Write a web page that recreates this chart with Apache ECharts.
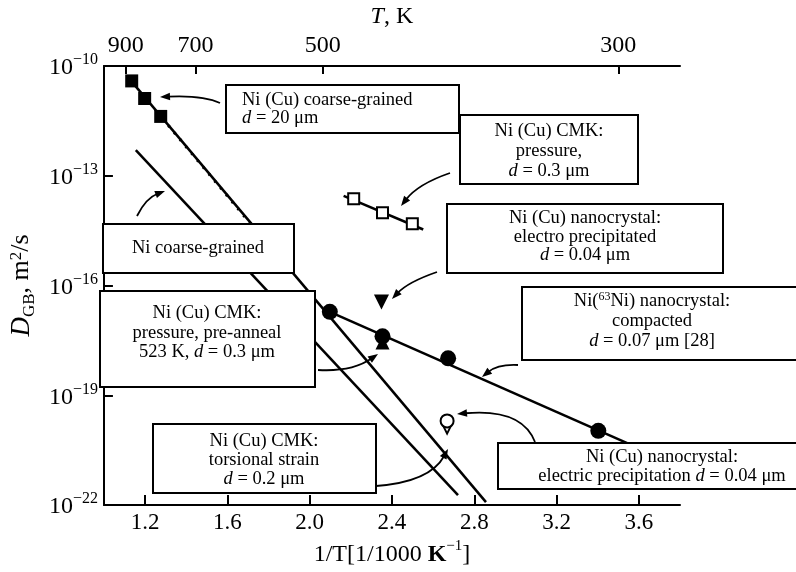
<!DOCTYPE html>
<html><head><meta charset="utf-8">
<script src="https://cdn.jsdelivr.net/npm/echarts@6/dist/echarts.min.js"></script>
<style>html,body{margin:0;padding:0;background:#fff}#c{width:796px;height:572px}</style>
</head><body><div id="c"></div>
<script>
// ---------- data: x = 1/T [1/1000 K^-1], y = log10(D_GB [m^2/s]) ----------
const xTicks = [1.2, 1.6, 2.0, 2.4, 2.8, 3.2, 3.6];
const yTickExp = [-22, -19, -16, -13, -10];
const topTickLabels = ['900', '700', '500', '300'];
const topTickAt = [1.106, 1.445, 2.064, 3.50];   // where the reference places the T ticks

// Ni (Cu) coarse-grained, d = 20 um (filled squares + fit)
const coarseCuX = [1.135, 1.198, 1.276];
const coarseCuY = [-10.41, -10.89, -11.38];
const coarseCuFitX = [1.135, 2.857];
const coarseCuFitY = [-10.43, -21.92];
const coarseCuDotX = [1.285, 1.72];
const coarseCuDotY = [-11.44, -14.36];
// Ni coarse-grained
const niCoarseFitX = [1.155, 2.721];
const niCoarseFitY = [-12.30, -21.73];
// Ni (Cu) CMK pressure, d = 0.3 um (open squares + fit)
const cmkPressX = [2.214, 2.354, 2.499];
const cmkPressY = [-13.63, -14.01, -14.31];
const cmkPressFitX = [2.165, 2.552];
const cmkPressFitY = [-13.55, -14.47];
// Ni (Cu) nanocrystal electro precipitated (filled down triangle)
const nanoElectroX = [2.349];
const nanoElectroY = [-16.45];
// Ni (Cu) CMK pressure, pre-anneal (filled up triangle)
const preAnnealX = [2.354];
const preAnnealY = [-17.56];
// Ni(63Ni) nanocrystal compacted (filled circles + fit)
const compactX = [2.098, 2.354, 2.673, 3.403];
const compactY = [-16.72, -17.39, -17.99, -19.97];
const compactFitX = [2.098, 3.56];
const compactFitY = [-16.72, -20.35];
// Ni (Cu) nanocrystal electric precipitation (open circle, open triangle)
const elecCircX = [2.668];
const elecCircY = [-19.70];
const elecTriX = [2.668];
const elecTriY = [-19.91];

// ---------- chart ----------
const FONT = '"Liberation Serif", "Times New Roman", serif';
const zip = (xs, ys) => xs.map((x, i) => [x, ys[i]]);
const chart = echarts.init(document.getElementById('c'), null, {renderer: 'canvas'});

function lineSeries(xs, ys, extra) {
  return Object.assign({
    type: 'line', data: zip(xs, ys), symbol: 'none', silent: true, animation: false,
    lineStyle: {color: '#000', width: 2.5, opacity: 1}, z: 3
  }, extra || {});
}
function scatterSeries(xs, ys, symbol, size, filled, extra) {
  return Object.assign({
    type: 'scatter', data: zip(xs, ys), symbol: symbol, symbolSize: size, animation: false, silent: true,
    itemStyle: filled ? {color: '#000', opacity: 1} : {color: '#fff', borderColor: '#000', borderWidth: 2, opacity: 1},
    emphasis: {disabled: true},
    z: 5
  }, extra || {});
}

// annotation helpers (pixel layout)
const rich = {
  i: {fontStyle: 'italic', fontFamily: FONT, fontSize: 18.5},
  s: {fontFamily: FONT, fontSize: 12, verticalAlign: 'top', lineHeight: 12},
  n: {fontFamily: FONT, fontSize: 18.5}
};
function boxRect(x1, y1, x2, y2) {
  return {type: 'rect', shape: {x: x1, y: y1, width: x2 - x1, height: y2 - y1},
    style: {fill: '#fff', stroke: '#000', lineWidth: 2}, z: 100};
}
function boxText(x, y, text, align, lh) {
  return {type: 'text', x: x, y: y, z: 101,
    style: {text: text, fill: '#000', fontFamily: FONT, fontSize: 18.5, align: align || 'center',
      verticalAlign: 'middle', lineHeight: lh || 19, rich: rich}};
}
function arrow(x1, y1, cx, cy, x2, y2) {
  const dx = x2 - cx, dy = y2 - cy, L = Math.hypot(dx, dy) || 1;
  const ux = dx / L, uy = dy / L, len = 10, w = 3.8;
  const bx = x2 - ux * len, by = y2 - uy * len;
  return [
    {type: 'bezierCurve', shape: {x1: x1, y1: y1, cpx1: cx, cpy1: cy, x2: bx + ux * 2, y2: by + uy * 2},
      style: {stroke: '#000', lineWidth: 1.8, fill: 'none'}, z: 102},
    {type: 'polygon', shape: {points: [[x2, y2], [bx - uy * w, by + ux * w], [bx + uy * w, by - ux * w]]},
      style: {fill: '#000'}, z: 102}
  ];
}

const graphics = [
  boxRect(226, 85, 459, 133),
  boxText(242, 109, 'Ni (Cu) coarse-grained\n{i|d} = 20 μm', 'left', 18),
  boxRect(460, 115, 638, 184),
  boxText(549, 151, 'Ni (Cu) CMK:\npressure,\n{i|d} = 0.3 μm', 'center', 20),
  boxRect(447, 204, 723, 273),
  boxText(585, 237, 'Ni (Cu) nanocrystal:\nelectro precipitated\n{i|d} = 0.04 μm', 'center', 18.5),
  boxRect(103, 224, 294, 273),
  boxText(198, 248, 'Ni coarse-grained', 'center', 19),
  boxRect(100, 291, 315, 387),
  boxText(207, 333, 'Ni (Cu) CMK:\npressure, pre-anneal\n523 K, {i|d} = 0.3 μm', 'center', 19.5),
  boxRect(522, 287, 830, 360),
  boxText(652, 321, '{n|Ni(}{s|63}{n|Ni) nanocrystal:}\ncompacted\n{i|d} = 0.07 μm [28]', 'center', 20),
  boxRect(498, 443, 830, 489),
  boxText(662, 467, 'Ni (Cu) nanocrystal:\nelectric precipitation {i|d} = 0.04 μm', 'center', 19),
  boxRect(153, 424, 376, 493),
  boxText(264, 460, 'Ni (Cu) CMK:\ntorsional strain\n{i|d} = 0.2 μm', 'center', 19)
].concat(
  arrow(220, 103, 203, 95, 160, 97),
  arrow(137, 216, 146, 198, 165, 191),
  arrow(450, 173, 418, 184, 401, 206),
  arrow(437, 272, 408, 282, 392, 299),
  arrow(318, 370, 352, 372, 378, 354),
  arrow(518, 365, 498, 364, 482, 377),
  arrow(535, 442, 522, 408, 457, 414),
  arrow(376, 486, 430, 482, 448, 449)
);

const axisCommon = {
  axisLine: {show: true, lineStyle: {color: '#000', width: 2}},
  splitLine: {show: false}
};

chart.setOption({
  backgroundColor: '#fff',
  animation: false,
  grid: {left: 101, right: 116, top: 65, bottom: 64, containLabel: false},
  xAxis: [
    Object.assign({
      type: 'value', position: 'bottom', min: 1.0, max: 3.8,
      axisTick: {show: true, inside: true, length: 10, lineStyle: {color: '#000', width: 2}, customValues: xTicks},
      axisLabel: {customValues: xTicks, formatter: v => v.toFixed(1), color: '#000',
        fontFamily: FONT, fontSize: 23, margin: 6},
      name: '{n|1/T[1/1000 }{b|K}{s|−1}{n|]}',
      nameLocation: 'middle', nameGap: 30,
      nameTextStyle: {rich: {
        n: {fontFamily: FONT, fontSize: 24, color: '#000', lineHeight: 28, verticalAlign: 'bottom'},
        b: {fontFamily: FONT, fontSize: 24, fontWeight: 'bold', color: '#000', lineHeight: 28, verticalAlign: 'bottom'},
        s: {fontFamily: FONT, fontSize: 15, color: '#000', lineHeight: 15, verticalAlign: 'top'}
      }}
    }, axisCommon),
    Object.assign({
      type: 'value', position: 'top', min: 1.0, max: 3.8,
      axisTick: {show: true, inside: true, length: 8, lineStyle: {color: '#000', width: 2}, customValues: topTickAt},
      axisLabel: {customValues: topTickAt, color: '#000', fontFamily: FONT, fontSize: 24, margin: 8,
        formatter: v => {
          let best = 0;
          topTickAt.forEach((t, i) => { if (Math.abs(t - v) < Math.abs(topTickAt[best] - v)) best = i; });
          return topTickLabels[best];
        }},
      name: '{i|T}{n|, K}',
      nameLocation: 'middle', nameGap: 31,
      nameTextStyle: {rich: {
        i: {fontFamily: FONT, fontSize: 24, fontStyle: 'italic', color: '#000'},
        n: {fontFamily: FONT, fontSize: 24, color: '#000'}
      }}
    }, axisCommon)
  ],
  yAxis: [
    Object.assign({
      type: 'value', min: -22, max: -10,
      axisTick: {show: true, inside: true, length: 9, lineStyle: {color: '#000', width: 2}, customValues: yTickExp},
      axisLabel: {customValues: yTickExp, margin: 6,
        formatter: v => '{b|10}{s|−' + Math.abs(v) + '}',
        rich: {
          b: {fontFamily: FONT, fontSize: 24, color: '#000', lineHeight: 28, verticalAlign: 'bottom'},
          s: {fontFamily: FONT, fontSize: 16, color: '#000', lineHeight: 16, verticalAlign: 'top'}
        }},
      name: '{i|D}{sub|GB}{n|, m}{sup|2}{n|/s}',
      nameLocation: 'middle', nameRotate: 90, nameGap: 64,
      nameTextStyle: {rich: {
        i: {fontFamily: FONT, fontSize: 27, fontStyle: 'italic', color: '#000', lineHeight: 30, verticalAlign: 'top'},
        n: {fontFamily: FONT, fontSize: 26, color: '#000', lineHeight: 30, verticalAlign: 'top'},
        sub: {fontFamily: FONT, fontSize: 17, color: '#000', lineHeight: 17, verticalAlign: 'bottom'},
        sup: {fontFamily: FONT, fontSize: 17, color: '#000', lineHeight: 17, verticalAlign: 'top'}
      }}
    }, axisCommon)
  ],
  series: [
    lineSeries(coarseCuFitX, coarseCuFitY),
    lineSeries(coarseCuDotX, coarseCuDotY, {lineStyle: {color: '#000', width: 3, type: [2, 7]}}),
    lineSeries(niCoarseFitX, niCoarseFitY),
    lineSeries(cmkPressFitX, cmkPressFitY),
    lineSeries(compactFitX, compactFitY),
    scatterSeries(coarseCuX, coarseCuY, 'rect', 13, true),
    scatterSeries(cmkPressX, cmkPressY, 'rect', 11, false),
    scatterSeries(nanoElectroX, nanoElectroY, 'triangle', 15, true, {symbolRotate: 180}),
    scatterSeries(preAnnealX, preAnnealY, 'triangle', 14, true),
    scatterSeries(compactX, compactY, 'circle', 16, true, {z: 6}),
    scatterSeries(elecTriX, elecTriY, 'triangle', 10, false, {symbolRotate: 180}),
    scatterSeries(elecCircX, elecCircY, 'circle', 13, false, {z: 6})
  ],
  graphic: {elements: graphics}
});
</script>
</body></html>
